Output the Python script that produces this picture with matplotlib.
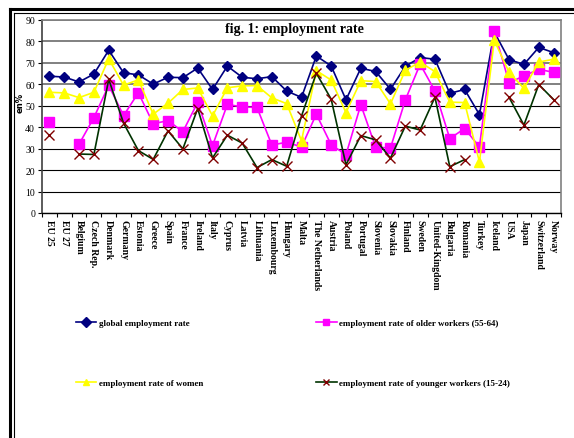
import numpy as np
import matplotlib
matplotlib.use("Agg")
from matplotlib import pyplot as plt
from matplotlib.lines import Line2D

nan = np.nan

# -----------------------------
# Data (employment rates in %)
# -----------------------------
countries = ["EU 25", "EU 27", "Belgium", "Czech Rep.", "Denmark", "Germany",
             "Estonia", "Greece", "Spain", "France", "Ireland", "Italy",
             "Cyprus", "Latvia", "Lithuania", "Luxembourg", "Hungary", "Malta",
             "The Netherlands", "Austria", "Poland", "Portugal", "Slovenia",
             "Slovakia", "Finland", "Sweden", "United-Kingdom", "Bulgaria",
             "Romania", "Turkey", "Iceland", "USA", "Japan", "Switzerland",
             "Norway"]

global_rate = [63.8, 63.4, 61.1, 64.8, 75.9, 65.4, 64.4, 60.1, 63.3, 63.1,
               67.6, 57.6, 68.5, 63.3, 62.6, 63.6, 56.9, 53.9, 73.2, 68.6,
               52.8, 67.5, 66.0, 57.7, 68.4, 72.5, 71.7, 55.8, 57.6, 45.9,
               84.4, 71.5, 69.3, 77.2, 74.8]

older_rate = [42.5, nan, 32.1, 44.5, 59.5, 45.4, 56.1, 41.6, 43.1, 37.9,
              51.6, 31.4, 50.6, 49.5, 49.2, 31.7, 33.0, 30.8, 46.1, 31.8,
              27.2, 50.5, 30.7, 30.3, 52.7, 69.4, 56.9, 34.7, 39.4, 30.8,
              84.8, 60.8, 63.9, 67.0, 65.6]

women_rate = [56.3, 56.0, 53.8, 56.3, 71.9, 59.6, 62.1, 46.1, 51.2, 57.6,
              58.3, 45.3, 58.4, 59.3, 59.4, 53.7, 51.0, 33.7, 66.4, 62.0,
              46.8, 61.7, 61.3, 50.9, 66.5, 70.4, 65.9, 51.7, 51.5, 23.8,
              80.5, 65.6, 58.1, 70.4, 71.7]

younger_rate = [36.5, nan, 27.5, 27.3, 62.3, 41.9, 29.1, 25.0, 38.3, 29.9,
                48.7, 25.7, 36.3, 32.6, 21.2, 24.9, 21.8, 45.2, 65.2, 53.1,
                22.5, 36.1, 34.1, 25.6, 40.5, 38.7, 54.0, 21.6, 24.9, nan,
                nan, 53.9, 41.0, 59.9, 52.9]

labels = ["global employment rate",
          "employment rate of older workers (55-64)",
          "employment rate of women",
          "employment rate of younger workers (15-24)"]

SERIF = "Liberation Serif"
W, H = 574, 439


def px(x, y):
    """pixel position (from top-left) -> figure fraction"""
    return x / W, 1 - y / H


fig = plt.figure(figsize=(W / 100, H / 100), dpi=100)

# double frame on the left and top
for off, lw in [(10, 2.2), (13.5, 0.8)]:
    fig.add_artist(Line2D([off / W, off / W], [0, 1 - off / H],
                          transform=fig.transFigure, color="black", lw=lw))
    fig.add_artist(Line2D([off / W, 1], [1 - off / H, 1 - off / H],
                          transform=fig.transFigure, color="black", lw=lw))

left, top, right, bottom = 42, 21, 561, 214
ax = fig.add_axes([left / W, 1 - bottom / H, (right - left) / W, (bottom - top) / H])

x = np.arange(len(countries)) + 0.5

l1, = ax.plot(x, global_rate, color="#000080", lw=1.2, marker="D",
              markersize=5.5, markerfacecolor="#000080", markeredgecolor="#000080", zorder=3)
l2, = ax.plot(x, older_rate, color="#FF00FF", lw=1.2, marker="s",
              markersize=7.5, markerfacecolor="#FF00FF", markeredgecolor="#FF00FF", zorder=4)
l3, = ax.plot(x, women_rate, color="#FFFF00", lw=1.2, marker="^",
              markersize=7.5, markerfacecolor="#FFFF00", markeredgecolor="#FFFF00", zorder=5)
l4, = ax.plot(x, younger_rate, color="#003300", lw=1.2, marker="x",
              markersize=7, markeredgecolor="#800000", markeredgewidth=1.0, zorder=6)

ax.set_xlim(0, len(countries))
ax.set_ylim(0, 90)

# y axis
ax.set_yticks(np.arange(0, 91, 10))
ax.tick_params(axis="y", length=3, width=0.8, labelsize=7, pad=2)
for t in ax.get_yticklabels():
    t.set_fontfamily(SERIF)

# x axis: tick marks between countries, labels at centres
ax.set_xticks(np.arange(0, len(countries) + 1))
ax.set_xticklabels([])
ax.set_xticks(x, minor=True)
ax.set_xticklabels(countries, minor=True, rotation=270, fontsize=7,
                   fontweight="bold", fontfamily=SERIF, va="top", ha="center")
ax.tick_params(axis="x", which="major", length=3, width=0.8)
ax.tick_params(axis="x", which="minor", length=0, pad=4)

# horizontal grid
ax.grid(axis="y", color="black", lw=0.8)
ax.set_axisbelow(True)
for val, gl in zip(ax.get_yticks(), ax.get_ygridlines()):
    if val >= 60:
        gl.set_color("#808080")
        gl.set_linewidth(1.4)

for side in ["top", "right"]:
    ax.spines[side].set_color("#808080")
    ax.spines[side].set_linewidth(1.2)
ax.spines["left"].set_color("#404040")
ax.spines["left"].set_linewidth(1.2)
ax.spines["bottom"].set_color("black")
ax.spines["bottom"].set_linewidth(1.0)

# title inside the plot area
ax.text(*px(294, 29), "fig. 1: employment rate", transform=fig.transFigure,
        ha="center", va="center", fontsize=10, fontweight="bold", fontfamily=SERIF)

# y label
fig.text(*px(20, 103), "en%", rotation=90, ha="center", va="center",
         fontsize=6, fontweight="bold", fontfamily="DejaVu Sans")

# legend, two columns
leg = fig.legend([l1, l3, l2, l4], [labels[0], labels[2], labels[1], labels[3]],
                 ncol=2, loc="upper left", bbox_to_anchor=px(72, 316),
                 frameon=False, handlelength=2.3, handletextpad=0.25,
                 columnspacing=12.5, labelspacing=5.7, borderaxespad=0,
                 prop={"family": SERIF, "weight": "bold", "size": 6.5})
for h in leg.legend_handles:
    h.set_markersize(5)

fig.savefig("out.png", dpi=100)
